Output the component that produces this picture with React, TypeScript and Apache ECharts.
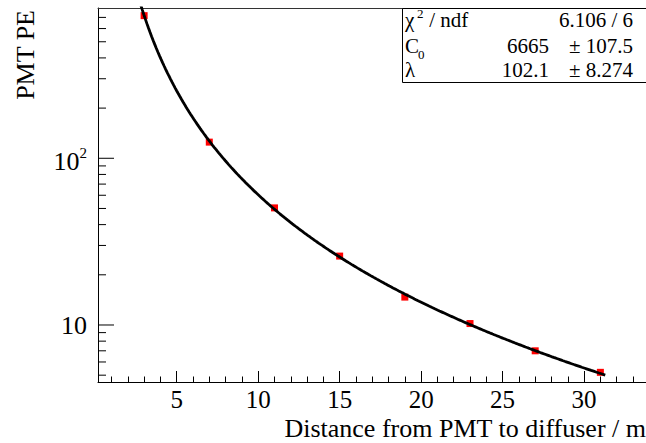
import { useEffect, useRef } from 'react';
import * as echarts from 'echarts';

// ---- data ----
const distances = [3, 7, 11, 15, 19, 23, 27, 31];
const pmtPE = [717, 125, 50.4, 25.9, 14.7, 10.2, 7.0, 5.2];

// fit parameters (C0 * exp(-x / lambda) / x^2) as shown in the stats box
const fitC0 = 6665;
const fitLambda = 102.1;
const fitRange = [2.5, 31.3];

// axis ranges and ticks
const X_MIN = 0.17;
const X_MAX = 33.8;
const Y_MIN = 4.55;
const Y_MAX = 797;
const yMinorTicks = [5, 6, 7, 8, 9, 20, 30, 40, 50, 60, 70, 80, 90, 200, 300, 400, 500, 600, 700];
const yMajorTicks = [10, 100];

// stats box texts
const statsNames = ['χ', 'C', 'λ'];
const statsNameSup = ['2', '', ''];
const statsNameSub = ['', '0', ''];
const statsNameTail = [' / ndf', '', ''];
const statsValues = ['6.106 / 6', '6665', '102.1'];
const statsErrors = ['', '± 107.5', '± 8.274'];

const FONT = '"Liberation Serif", "Times New Roman", serif';

export default function App() {
  const ref = useRef<HTMLDivElement>(null);

  useEffect(() => {
    if (!ref.current) return;
    const chart = echarts.init(ref.current, undefined, { renderer: 'svg' });

    const fitPoints: number[][] = [];
    const steps = 300;
    for (let i = 0; i <= steps; i++) {
      const x = fitRange[0] + ((fitRange[1] - fitRange[0]) * i) / steps;
      fitPoints.push([x, (fitC0 * Math.exp(-x / fitLambda)) / (x * x)]);
    }

    const tickData = [
      ...yMinorTicks.map((v) => [X_MIN, v, 0]),
      ...yMajorTicks.map((v) => [X_MIN, v, 1]),
    ];

    const txt = (text: string, x: number, y: number, size: number, align = 'left') => ({
      type: 'text',
      x,
      y,
      z: 11,
      style: {
        text,
        align,
        verticalAlign: 'middle',
        fontFamily: FONT,
        fontSize: size,
        lineHeight: Math.round(size * 0.9),
        fill: '#000',
      },
    });

    const rowCenters = [20, 46, 70];
    const statsGraphics: any[] = [
      {
        type: 'rect',
        shape: { x: 402.5, y: 8.5, width: 300, height: 74 },
        style: { fill: '#fff', stroke: '#000', lineWidth: 1 },
        z: 10,
      },
    ];
    statsNames.forEach((name, i) => {
      const cy = rowCenters[i];
      statsGraphics.push(txt(name, 405, cy, 21));
      if (statsNameSup[i]) statsGraphics.push(txt(statsNameSup[i], 417, cy - 7, 13));
      if (statsNameSub[i]) statsGraphics.push(txt(statsNameSub[i], 418, cy + 8, 13));
      if (statsNameTail[i]) statsGraphics.push(txt(statsNameTail[i], 424, cy, 21));
      if (statsErrors[i]) {
        statsGraphics.push(txt(statsValues[i], 549, cy, 21, 'right'));
        statsGraphics.push(txt(statsErrors[i], 633, cy, 21, 'right'));
      } else {
        statsGraphics.push(txt(statsValues[i], 633, cy, 21, 'right'));
      }
    });

    chart.setOption({
      animation: false,
      backgroundColor: '#fff',
      grid: { left: 98, top: 8, right: 0, bottom: 61, containLabel: false, outerBoundsMode: 'none' },
      xAxis: [
        {
          type: 'value',
          min: X_MIN,
          max: X_MAX,
          splitNumber: 6,
          axisLine: { show: true, onZero: false, lineStyle: { color: '#000', width: 1 } },
          axisTick: { show: true, inside: true, length: 11, lineStyle: { color: '#000' } },
          minorTick: { show: true, splitNumber: 5, length: 5.5, lineStyle: { color: '#000' } },
          splitLine: { show: false },
          axisLabel: {
            show: true,
            margin: 8,
            lineHeight: 18,
            showMinLabel: false,
            showMaxLabel: false,
            fontFamily: FONT,
            fontSize: 25,
            color: '#000',
            formatter: (v: number) => (Math.abs(v / 5 - Math.round(v / 5)) < 1e-6 ? String(Math.round(v)) : ''),
          },
        },
        {
          type: 'value',
          position: 'top',
          min: X_MIN,
          max: X_MAX,
          axisLine: { show: true, onZero: false, lineStyle: { color: '#333', width: 1 } },
          axisTick: { show: false },
          axisLabel: { show: false },
          splitLine: { show: false },
        },
      ],
      yAxis: {
        type: 'log',
        logBase: 10,
        min: Y_MIN,
        max: Y_MAX,
        axisLine: { show: true, onZero: false, lineStyle: { color: '#000', width: 1 } },
        axisTick: { show: false },
        minorTick: { show: false },
        splitLine: { show: false },
        axisLabel: {
          show: true,
          margin: 11,
          showMinLabel: false,
          showMaxLabel: false,
          formatter: (v: number) => {
            if (Math.abs(v - 10) < 1e-6) return '{b|10}';
            if (Math.abs(v - 100) < 1e-6) return '{c|10}{s|2}';
            return '';
          },
          rich: {
            b: { fontFamily: FONT, fontSize: 26, lineHeight: 26, color: '#000', padding: [2, 0, 0, 0] },
            c: { fontFamily: FONT, fontSize: 26, lineHeight: 26, color: '#000', padding: [7, 0, 0, 0] },
            s: { fontFamily: FONT, fontSize: 15, lineHeight: 20, color: '#000', verticalAlign: 'top' },
          },
        },
      },
      graphic: [
        {
          type: 'text',
          x: 25,
          y: 10,
          rotation: Math.PI / 2,
          style: {
            text: 'PMT PE',
            align: 'right',
            verticalAlign: 'middle',
            fontFamily: FONT,
            fontSize: 26,
            lineHeight: 22,
            fill: '#000',
          },
        },
        {
          type: 'text',
          x: 646,
          y: 428,
          style: {
            text: 'Distance from PMT to diffuser / m',
            align: 'right',
            verticalAlign: 'middle',
            fontFamily: FONT,
            fontSize: 26,
            lineHeight: 20,
            fill: '#000',
          },
        },
        ...statsGraphics,
      ],
      series: [
        {
          type: 'custom',
          coordinateSystem: 'cartesian2d',
          data: tickData,
          silent: true,
          clip: false,
          z: 5,
          renderItem: (_params: any, api: any) => {
            const p = api.coord([api.value(0), api.value(1)]);
            const len = api.value(2) ? 16 : 8;
            return {
              type: 'line',
              shape: { x1: p[0], y1: p[1], x2: p[0] + len, y2: p[1] },
              style: { stroke: '#000', lineWidth: 1 },
            };
          },
        },
        {
          type: 'scatter',
          data: distances.map((d, i) => [d, pmtPE[i]]),
          symbol: 'rect',
          symbolSize: 7,
          itemStyle: { color: '#ff0000', opacity: 1 },
          z: 2,
          silent: true,
        },
        {
          type: 'line',
          data: fitPoints,
          showSymbol: false,
          symbol: 'none',
          smooth: false,
          clip: true,
          lineStyle: { color: '#000', width: 2.8 },
          z: 3,
          silent: true,
        },
      ],
    });

    return () => chart.dispose();
  }, []);

  return (
    <div
      ref={ref}
      style={{ position: 'absolute', left: 0, top: 0, width: 646, height: 443, background: '#fff' }}
    />
  );
}
